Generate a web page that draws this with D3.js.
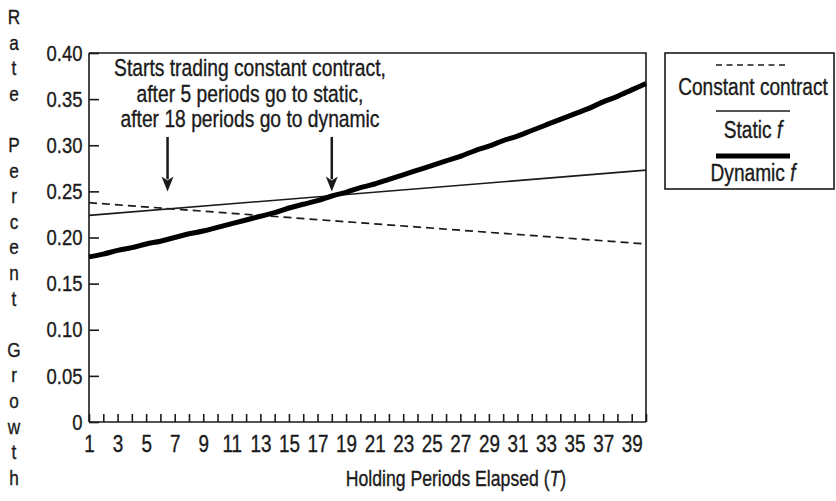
<!DOCTYPE html>
<html><head><meta charset="utf-8">
<script src="https://cdn.jsdelivr.net/npm/d3@7/dist/d3.min.js"></script>
<style>
html,body{margin:0;padding:0;background:#fff;}
svg text{font-family:"Liberation Sans",Arial,sans-serif;fill:#1a1a1a;stroke:#1a1a1a;stroke-width:0.35px;}
</style></head>
<body><svg id="c" width="836" height="501"></svg>
<script>
// ---- data ----
const periods = d3.range(1, 41);
const dynamicF = [0.179,0.182,0.186,0.189,0.193,0.196,0.200,0.204,0.207,0.211,
                  0.215,0.219,0.223,0.227,0.232,0.236,0.240,0.245,0.249,0.254,
                  0.258,0.263,0.268,0.273,0.278,0.283,0.288,0.294,0.299,0.305,
                  0.310,0.316,0.322,0.328,0.334,0.340,0.347,0.353,0.360,0.367];
const staticPeriods = [1, 40];
const staticF = [0.224, 0.273];
const constantPeriods = [1, 40];
const constantContract = [0.2377, 0.193];
const yTicks = [0, 0.05, 0.10, 0.15, 0.20, 0.25, 0.30, 0.35, 0.40];
const xTickLabels = d3.range(1, 40, 2);
const legendLabels = ["Constant contract", "Static ", "Dynamic "];
const annotationLines = ["Starts trading constant contract,", "after 5 periods go to static,", "after 18 periods go to dynamic"];
const arrowPeriods = [6.5, 18];
const arrowFrom = 0.309, arrowTo = 0.250;
const yTitle = "Rate Percent Growth";

// ---- layout ----
const L = 89, R = 646, T = 53, B = 422;
const SX = 0.82; // condensed look
const svg = d3.select("#c");
const x = d3.scaleLinear().domain([1, 40]).range([L, R]);
const y = d3.scaleLinear().domain([0, 0.4]).range([B, T]);
const ink = "#1a1a1a";

function txt(parent, tx, ty, str, size, anchor) {
  return parent.append("text")
    .attr("transform", `translate(${tx},${ty}) scale(${SX},1)`)
    .attr("text-anchor", anchor || "middle").attr("font-size", size).text(str);
}

// frame (top/right)
svg.append("path").attr("d", `M${L},${T}H${R}V${B}`).attr("fill","none").attr("stroke",ink).attr("stroke-width",1.6);

// y axis
const ya = svg.append("g").attr("transform", `translate(${L},0)`)
  .call(d3.axisLeft(y).tickValues(yTicks).tickSize(-10).tickPadding(8)
    .tickFormat(d => d === 0 ? "0" : d3.format(".2f")(d)));
ya.selectAll("path,line").attr("stroke", ink).attr("stroke-width", 1.6);
ya.selectAll("text").attr("font-size", 22.5).attr("fill", ink).attr("transform", `scale(${SX},1)`);
ya.select(".domain").attr("d", `M0,${T}V${B}`);

// x axis
const xa = svg.append("g").attr("transform", `translate(0,${B})`)
  .call(d3.axisBottom(x).tickValues(periods).tickSize(-8).tickPadding(14)
    .tickFormat(d => xTickLabels.includes(d) ? d : ""));
xa.selectAll("path,line").attr("stroke", ink).attr("stroke-width", 1.6);
xa.selectAll("text").attr("font-size", 23).attr("fill", ink).attr("transform", `scale(${SX},1)`);
xa.select(".domain").attr("d", `M${L},0H${R}`);

// lines
const line = d3.line().x(d => x(d[0])).y(d => y(d[1]));
svg.append("path").datum(constantPeriods.map((p,i)=>[p, constantContract[i]]))
  .attr("d", line).attr("fill","none").attr("stroke",ink).attr("stroke-width",1.7).attr("stroke-dasharray","8,5");
svg.append("path").datum(staticPeriods.map((p,i)=>[p, staticF[i]]))
  .attr("d", line).attr("fill","none").attr("stroke",ink).attr("stroke-width",1.6);
svg.append("path").datum(periods.map((p,i)=>[p, dynamicF[i]]))
  .attr("d", line.curve(d3.curveMonotoneX)).attr("fill","none").attr("stroke","#000").attr("stroke-width",5);

// annotation
annotationLines.forEach((t,i) => txt(svg, 250, 76 + i*25.5, t, 23.5));
arrowPeriods.forEach(p => {
  const px = x(p), y0 = y(arrowFrom), y1 = y(arrowTo);
  svg.append("line").attr("x1",px).attr("x2",px).attr("y1",y0).attr("y2",y1-12).attr("stroke",ink).attr("stroke-width",2.5);
  svg.append("path").attr("d",`M${px-6},${y1-15}L${px},${y1}L${px+6},${y1-15}L${px},${y1-11}Z`).attr("fill",ink);
});

// legend
const lg = svg.append("g");
lg.append("rect").attr("x",665).attr("y",T).attr("width",169).attr("height",136).attr("fill","none").attr("stroke",ink).attr("stroke-width",1.6);
const cx = 753;
lg.append("line").attr("x1",716).attr("x2",788).attr("y1",65).attr("y2",65).attr("stroke",ink).attr("stroke-width",1.6).attr("stroke-dasharray","6,4.5");
lg.append("line").attr("x1",716).attr("x2",790).attr("y1",111).attr("y2",111).attr("stroke",ink).attr("stroke-width",1.6);
lg.append("line").attr("x1",716).attr("x2",790).attr("y1",156).attr("y2",156).attr("stroke","#000").attr("stroke-width",5);
const ly = [95, 138, 181];
legendLabels.forEach((t,i) => {
  const tx = txt(lg, cx, ly[i], t, 23.3);
  if (i > 0) tx.append("tspan").attr("font-style","italic").text("f");
});

// axis titles
const xt = txt(svg, 456, 486, "Holding Periods Elapsed (", 21.5);
xt.append("tspan").attr("font-style","italic").text("T");
xt.append("tspan").text(")");
yTitle.split("").forEach((ch,i) => {
  if (ch !== " ") txt(svg, 14, 24 + i*25.6, ch, 21);
});
</script></body></html>
